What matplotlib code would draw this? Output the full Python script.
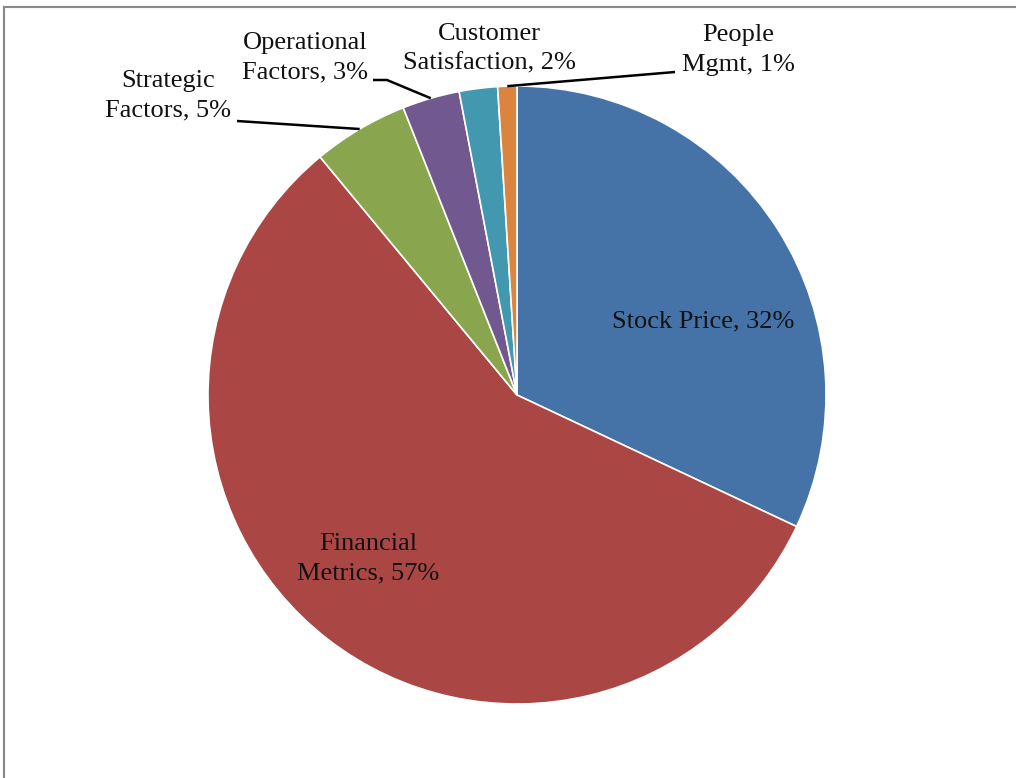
import numpy as np
import matplotlib
matplotlib.use("Agg")
import matplotlib.pyplot as plt
from matplotlib.lines import Line2D

categories = ["Stock Price", "Financial\nMetrics", "Strategic\nFactors",
              "Operational\nFactors", "Customer\nSatisfaction", "People\nMgmt"]
values = [32, 57, 5, 3, 2, 1]
colors = ["#4572A7", "#AA4643", "#89A54E", "#71588F", "#4198AF", "#DB843D"]

W, H = 1016, 778
fig = plt.figure(figsize=(W / 100, H / 100), dpi=100)
ax = fig.add_axes([0, 0, 1, 1])
ax.set_axis_off()

cx, cy, r = 517, H - 395, 309
wedges, _ = ax.pie(values, colors=colors, startangle=90, counterclock=False,
                   center=(cx, cy), radius=r,
                   wedgeprops=dict(edgecolor="white", linewidth=1.2))
ax.set_xlim(0, W)
ax.set_ylim(0, H)
ax.set_aspect("equal")

font = dict(family=["Liberation Serif", "DejaVu Serif"], fontsize=19,
            color="#111111", linespacing=1.45)

labels = [f"{c}, {v}%" for c, v in zip(categories, values)]

# label positions (pixels, from top-left)
label_pos = [(703, 321), (368, 559), (168, 96), (305, 58), (489, 49), (738, 50)]
# leader line starting points (pixels) for outside labels, with optional elbow
leaders = {
    2: [(237, 121)],
    3: [(373, 80), (387, 80)],
    5: [(675, 72)],
}

for i, (lab, (px, py)) in enumerate(zip(labels, label_pos)):
    ax.text(px, H - py, lab, ha="center", va="center", **font)

for i, pts in leaders.items():
    w = wedges[i]
    mid = np.deg2rad((w.theta1 + w.theta2) / 2)
    ex, ey = cx + r * np.cos(mid), cy + r * np.sin(mid)
    xs = [p[0] for p in pts] + [ex]
    ys = [H - p[1] for p in pts] + [ey]
    ax.plot(xs, ys, color="black", linewidth=1.8, solid_capstyle="butt")

# outer frame (left and top border)
fig.add_artist(Line2D([3.5 / W, 3.5 / W], [0, 1 - 7 / H], color="#888888", linewidth=1.5))
fig.add_artist(Line2D([3.5 / W, 1], [1 - 7 / H, 1 - 7 / H], color="#888888", linewidth=1.5))

fig.savefig("out.png", dpi=100, facecolor="white")
